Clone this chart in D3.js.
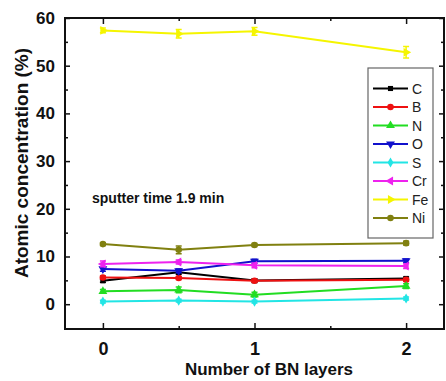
<!DOCTYPE html>
<html>
<head>
<meta charset="utf-8">
<script src="https://cdn.jsdelivr.net/npm/d3@7"></script>
<style>
  body { margin: 0; background: #fff; }
  text { font-family: "Liberation Sans", Arial, sans-serif; }
</style>
</head>
<body>
<div id="chart"></div>
<script>
const svgWidth = 446;
const svgHeight = 381;

const margin = { top: 18, right: 2, bottom: 52, left: 65 };
const width = svgWidth - margin.left - margin.right;
const height = svgHeight - margin.top - margin.bottom;

// data
const layers = [0, 0.5, 1, 2];
const elements = ["C", "B", "N", "O", "S", "Cr", "Fe", "Ni"];
const valC  = [4.9, 6.7, 4.95, 5.4];
const valB  = [5.6, 5.5, 4.9, 5.1];
const valN  = [2.7, 3.0, 2.0, 3.8];
const valO  = [7.4, 7.0, 9.0, 9.1];
const valS  = [0.55, 0.75, 0.55, 1.2];
const valCr = [8.45, 8.85, 8.15, 8.0];
const valFe = [57.4, 56.7, 57.2, 52.8];
const valNi = [12.6, 11.4, 12.4, 12.8];
const errC  = [0.3, 0.4, 0.4, 0.3];
const errB  = [0.3, 0.3, 0.3, 0.3];
const errN  = [0.4, 0.6, 0.5, 0.5];
const errO  = [0.5, 0.4, 0.4, 0.4];
const errS  = [0.3, 0.3, 0.3, 0.3];
const errCr = [0.6, 0.4, 0.5, 0.5];
const errFe = [0.5, 0.9, 0.8, 1.2];
const errNi = [0.3, 0.8, 0.3, 0.4];
const xTicks = [0, 1, 2];
const yTicks = [0, 10, 20, 30, 40, 50, 60];

const colors = ["#000000", "#ee1111", "#22dd22", "#1111cc", "#22e5e5", "#ee22ee", "#f5f500", "#808010"];
const shapes = ["square", "circle", "up", "down", "diamond", "left", "right", "circle"];
const values = [valC, valB, valN, valO, valS, valCr, valFe, valNi];
const errors = [errC, errB, errN, errO, errS, errCr, errFe, errNi];

const series = elements.map((name, i) => ({
  name: name,
  color: colors[i],
  shape: shapes[i],
  points: layers.map((x, j) => ({ x: x, y: values[i][j], e: errors[i][j] }))
}));

const svg = d3.select("#chart")
  .append("svg")
  .attr("width", svgWidth)
  .attr("height", svgHeight);

const chartGroup = svg.append("g")
  .attr("transform", `translate(${margin.left}, ${margin.top})`);

const x = d3.scaleLinear().domain([-0.25, 2.25]).range([0, width]);
const y = d3.scaleLinear().domain([-5.2, 60]).range([height, 0]);

// marker paths
function markerPath(shape) {
  if (shape === "square") return d3.symbol(d3.symbolSquare, 26)();
  if (shape === "circle") return d3.symbol(d3.symbolCircle, 34)();
  if (shape === "diamond") return d3.symbol(d3.symbolDiamond, 30)();
  return d3.symbol(d3.symbolTriangle, 34)();
}
const rotation = { up: 0, down: 180, left: -90, right: 90 };

// frame ticks, all pointing inwards
const axisStyle = g => {
  g.select(".domain").remove();
  g.selectAll("line").attr("stroke", "#111").attr("stroke-width", 1.5);
};

const xMinor = [0.5, 1.5];
chartGroup.append("g")
  .attr("transform", `translate(0, ${height})`)
  .call(d3.axisBottom(x).tickValues(xTicks).tickSize(-6).tickPadding(13).tickFormat(d3.format("d")))
  .call(axisStyle)
  .call(g => g.selectAll("text").attr("fill", "#111").style("font-size", "18px").style("font-weight", "bold"));
chartGroup.append("g")
  .attr("transform", `translate(0, ${height})`)
  .call(d3.axisBottom(x).tickValues(xMinor).tickSize(-3).tickFormat(""))
  .call(axisStyle);
chartGroup.append("g")
  .call(d3.axisTop(x).tickValues(xTicks).tickSize(-6).tickFormat(""))
  .call(axisStyle);
chartGroup.append("g")
  .call(d3.axisTop(x).tickValues(xMinor).tickSize(-3).tickFormat(""))
  .call(axisStyle);

const yMinor = [-5, 5, 15, 25, 35, 45, 55];
chartGroup.append("g")
  .call(d3.axisLeft(y).tickValues(yTicks).tickSize(-5).tickPadding(10))
  .call(axisStyle)
  .call(g => g.selectAll("text").attr("fill", "#111").style("font-size", "17px").style("font-weight", "bold"));
chartGroup.append("g")
  .call(d3.axisLeft(y).tickValues(yMinor.slice(1)).tickSize(-3).tickFormat(""))
  .call(axisStyle);
chartGroup.append("g")
  .attr("transform", `translate(${width}, 0)`)
  .call(d3.axisRight(y).tickValues(yTicks).tickSize(-5).tickFormat(""))
  .call(axisStyle);
chartGroup.append("g")
  .attr("transform", `translate(${width}, 0)`)
  .call(d3.axisRight(y).tickValues(yMinor.slice(1)).tickSize(-3).tickFormat(""))
  .call(axisStyle);

// frame
chartGroup.append("rect")
  .attr("width", width)
  .attr("height", height)
  .attr("fill", "none")
  .attr("stroke", "#111")
  .attr("stroke-width", 2);

// lines, error bars, markers
const line = d3.line().x(d => x(d.x)).y(d => y(d.y));

const seriesGroup = chartGroup.selectAll(".series")
  .data(series)
  .enter()
  .append("g");

seriesGroup.append("path")
  .attr("d", d => line(d.points))
  .attr("fill", "none")
  .attr("stroke", d => d.color)
  .attr("stroke-width", 2);

seriesGroup.each(function(s) {
  const g = d3.select(this);
  s.points.forEach(p => {
    g.append("path")
      .attr("d", `M${x(p.x) - 3},${y(p.y + p.e)}H${x(p.x) + 3}M${x(p.x)},${y(p.y + p.e)}V${y(p.y - p.e)}M${x(p.x) - 3},${y(p.y - p.e)}H${x(p.x) + 3}`)
      .attr("stroke", s.color)
      .attr("stroke-width", 1.5)
      .attr("fill", "none");
    g.append("path")
      .attr("d", markerPath(s.shape))
      .attr("transform", `translate(${x(p.x)}, ${y(p.y)}) rotate(${rotation[s.shape] || 0})`)
      .attr("fill", s.color);
  });
});

// annotation
chartGroup.append("text")
  .attr("x", 92 - margin.left)
  .attr("y", 203 - margin.top)
  .attr("fill", "#111")
  .style("font-size", "14px")
  .style("font-weight", "bold")
  .text("sputter time 1.9 min");

// legend
const legend = svg.append("g").attr("transform", "translate(368, 68)");
legend.append("rect")
  .attr("width", 65)
  .attr("height", 170)
  .attr("fill", "#fff")
  .attr("stroke", "#666")
  .attr("stroke-width", 1.2);

const legendItem = legend.selectAll(".item")
  .data(series)
  .enter()
  .append("g")
  .attr("transform", (d, i) => `translate(0, ${20.5 + i * 18.5})`);

legendItem.append("line")
  .attr("x1", 5).attr("x2", 40)
  .attr("stroke", d => d.color)
  .attr("stroke-width", 2);
legendItem.append("path")
  .attr("d", d => markerPath(d.shape))
  .attr("transform", d => `translate(22.5, 0) rotate(${rotation[d.shape] || 0})`)
  .attr("fill", d => d.color);
legendItem.append("text")
  .attr("x", 44)
  .attr("y", 5)
  .attr("fill", "#222")
  .style("font-size", "14px")
  .text(d => d.name);

// axis titles
svg.append("text")
  .attr("x", 269)
  .attr("y", 375)
  .attr("text-anchor", "middle")
  .attr("fill", "#111")
  .style("font-size", "17px")
  .style("font-weight", "bold")
  .text("Number of BN layers");

svg.append("text")
  .attr("transform", "rotate(-90)")
  .attr("x", -163)
  .attr("y", 28)
  .attr("text-anchor", "middle")
  .attr("fill", "#111")
  .style("font-size", "19px")
  .style("font-weight", "bold")
  .text("Atomic concentration (%)");
</script>
</body>
</html>
